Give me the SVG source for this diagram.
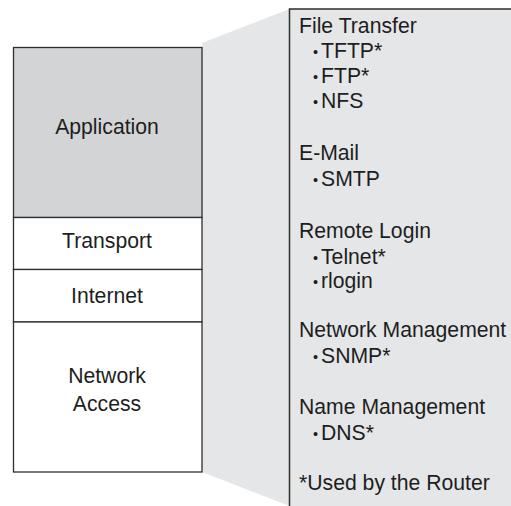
<svg xmlns="http://www.w3.org/2000/svg" width="511" height="506" viewBox="0 0 511 506">
<style>
text{font-family:"Liberation Sans",Arial,Helvetica,sans-serif;font-size:21.2px;fill:#1e1e1e}
.c{text-anchor:middle}
.b{font-size:14.5px}
.box{stroke:#2e2e2e;stroke-width:1.3}
.callout{fill:#e5e6e7}
</style>
<rect width="511" height="506" fill="#ffffff"/>
<g id="connectors">
<polygon class="callout" points="202,43 289.5,9 511,9 511,506 289.5,506 202,472"/>
</g>
<g id="application">
<rect class="box" x="13.5" y="47.5" width="188.5" height="170" fill="#d3d4d6"/>
<text class="c" x="107" y="134">Application</text>
</g>
<g id="transport">
<rect class="box" x="13.5" y="217.5" width="188.5" height="52" fill="#ffffff"/>
<text class="c" x="107" y="248">Transport</text>
</g>
<g id="internet">
<rect class="box" x="13.5" y="269.5" width="188.5" height="52.5" fill="#ffffff"/>
<text class="c" x="107" y="303">Internet</text>
</g>
<g id="network-access">
<rect class="box" x="13.5" y="322" width="188.5" height="150" fill="#ffffff"/>
<text class="c" x="107" y="383">Network</text>
<text class="c" x="107" y="411">Access</text>
</g>
<g id="protocols">
<path d="M289.5,506 V9 H511" fill="none" stroke="#2e2e2e" stroke-width="1.5"/>
<text x="299" y="33">File Transfer</text>
<text x="313" y="58"><tspan class="b" dy="-1.5">•</tspan><tspan x="321" dy="1.5">TFTP*</tspan></text>
<text x="313" y="83"><tspan class="b" dy="-1.5">•</tspan><tspan x="321" dy="1.5">FTP*</tspan></text>
<text x="313" y="108"><tspan class="b" dy="-1.5">•</tspan><tspan x="321" dy="1.5">NFS</tspan></text>
<text x="299" y="160">E-Mail</text>
<text x="313" y="186"><tspan class="b" dy="-1.5">•</tspan><tspan x="321" dy="1.5">SMTP</tspan></text>
<text x="299" y="238">Remote Login</text>
<text x="313" y="264"><tspan class="b" dy="-1.5">•</tspan><tspan x="321" dy="1.5">Telnet*</tspan></text>
<text x="313" y="288"><tspan class="b" dy="-1.5">•</tspan><tspan x="321" dy="1.5">rlogin</tspan></text>
<text x="299" y="337">Network Management</text>
<text x="313" y="363"><tspan class="b" dy="-1.5">•</tspan><tspan x="321" dy="1.5">SNMP*</tspan></text>
<text x="299" y="414">Name Management</text>
<text x="313" y="440"><tspan class="b" dy="-1.5">•</tspan><tspan x="321" dy="1.5">DNS*</tspan></text>
<text x="299" y="490">*Used by the Router</text>
</g>
</svg>
